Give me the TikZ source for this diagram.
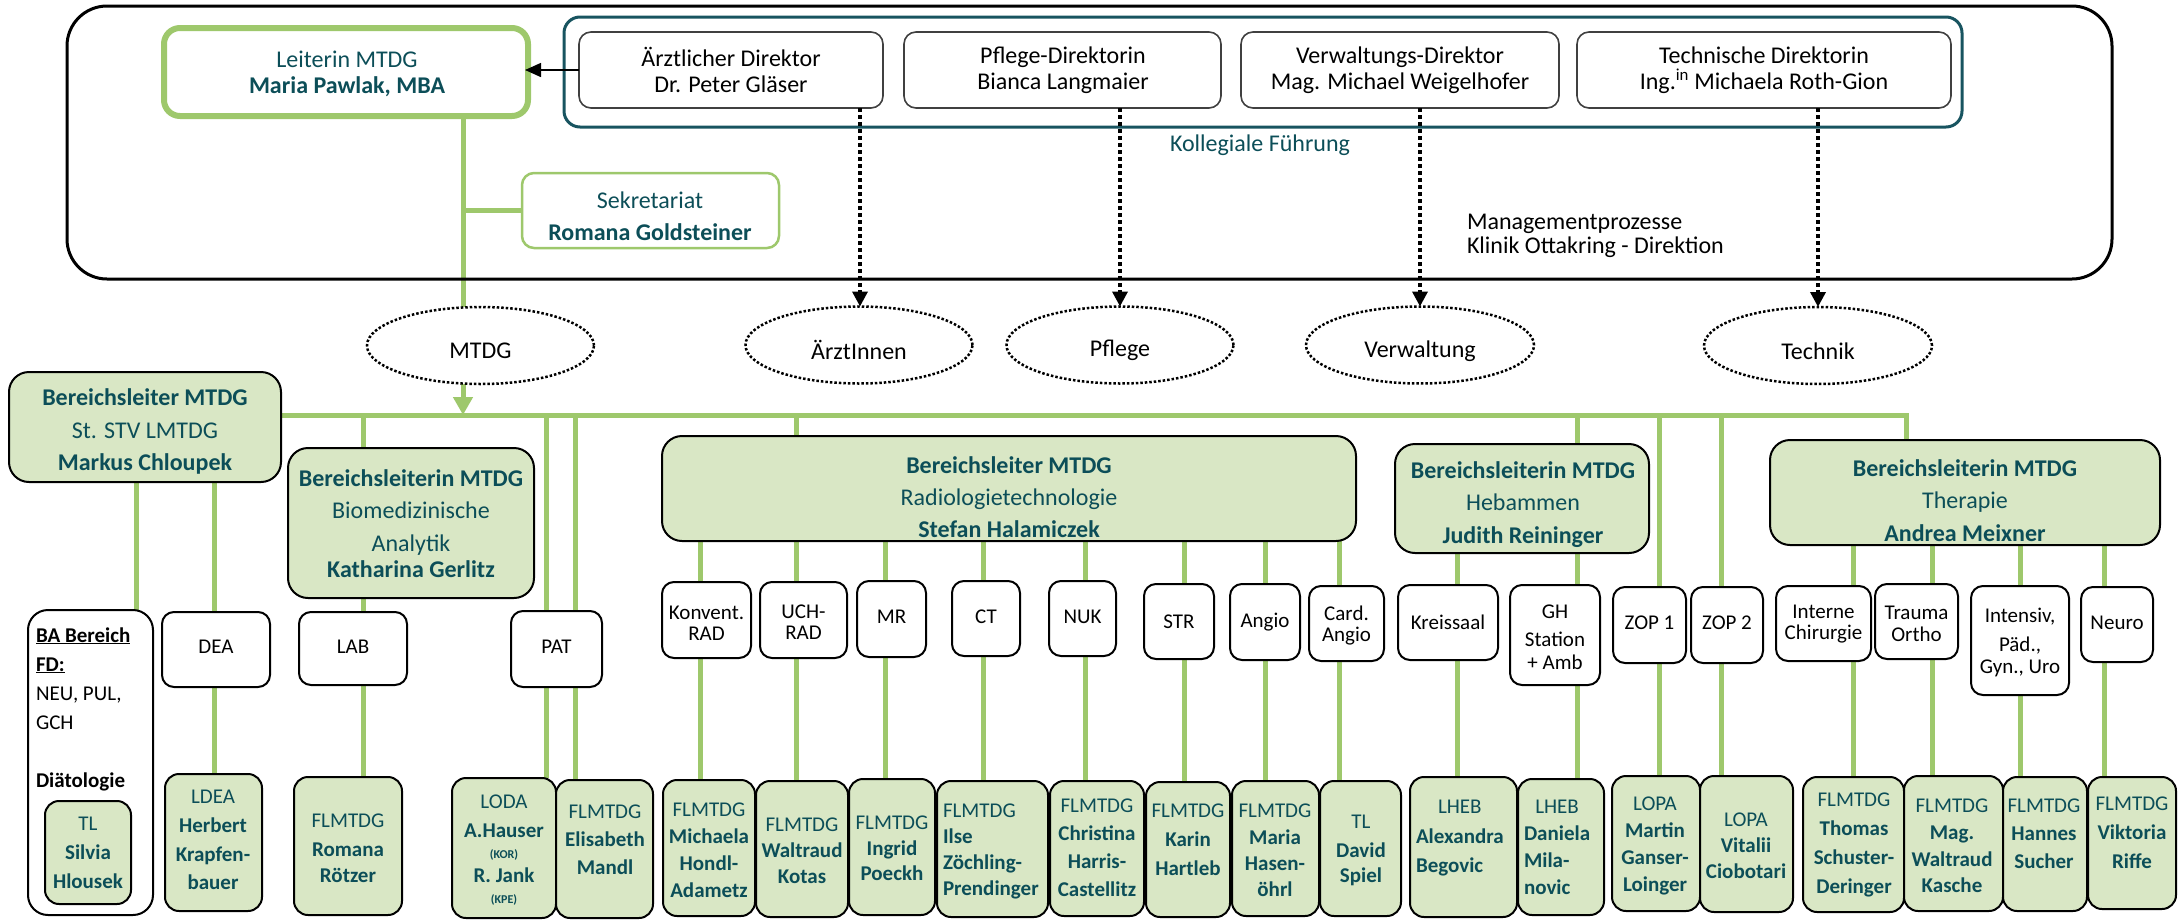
\documentclass[tikz,border=0pt]{standalone}
\usepackage{fontspec}
\setmainfont{Carlito}
\usetikzlibrary{shapes.geometric,arrows.meta,backgrounds}
\definecolor{gline}{RGB}{158,200,108}
\definecolor{gfill}{RGB}{217,231,197}
\definecolor{tealt}{RGB}{12,78,88}
\definecolor{kolc}{RGB}{24,84,96}
\newcommand\fA[1]{\fontsize{24}{#1}\selectfont}
\newcommand\fB[1]{\fontsize{21}{#1}\selectfont}
\newcommand\fC{\fontsize{12}{13}\selectfont}
\newcommand\Bx[6]{\node[#2,minimum width={#5-#3},minimum height={#6-#4}] (#1) at ({(#3+#5)/2},{(#4+#6)/2}) {};}
\begin{document}
\begin{tikzpicture}[x=1pt,y=-1pt,
  every node/.style={inner sep=0pt,outer sep=0pt},
  outerbox/.style={draw=black,line width=3pt,rounded corners=40pt},
  kolbox/.style={draw=kolc,line width=3pt,rounded corners=16pt},
  leitbox/.style={draw=gline,line width=6pt,rounded corners=16pt,fill=white},
  dirbox/.style={draw=black!75,line width=1.6pt,rounded corners=12pt,fill=white},
  sekbox/.style={draw=gline,line width=2.5pt,rounded corners=12pt,fill=white},
  hbox/.style={draw=black,line width=2pt,rounded corners=20pt,fill=gfill},
  wbox/.style={draw=black,line width=2pt,rounded corners=12pt,fill=white},
  babox/.style={draw=black,line width=2pt,rounded corners=20pt,fill=white},
  sbox/.style={draw=black,line width=2pt,rounded corners=14pt,fill=gfill},
  ell/.style={ellipse,draw=black,line width=2.5pt,dash pattern=on 2.5pt off 2pt},
  tt/.style={text=tealt,align=center},
  bt/.style={text=black,align=center},
  conn/.style={draw=gline,line width=5pt},
  dotarr/.style={draw=black,line width=3.5pt,dash pattern=on 3.5pt off 3.5pt,-{Triangle[width=15pt,length=15pt]}}]
\useasboundingbox (0,0) rectangle (2179,919);

% ---------- top frame ----------
\Bx{outer}{outerbox}{67}{6}{2112}{279}
\Bx{kol}{kolbox}{564}{17}{1962}{127}
\node[tt,font=\fA{26}] (kolT) at (1260,145) {Kollegiale Führung};
\node[bt,align=left,anchor=west,font=\fA{24}] (mgmtT) at (1467,236) {Managementprozesse\\Klinik Ottakring - Direktion};

\Bx{leiter}{leitbox}{164}{28}{528}{116}
\node[tt,font=\fA{26}] (leiterT) at (347,74) {Leiterin MTDG\\\textbf{Maria Pawlak, MBA}};

\Bx{aerzt}{dirbox}{579}{32}{883}{108}
\node[bt,font=\fA{26}] (aerztT) at (731,70) {Ärztlicher Direktor\\Dr. Peter Gläser};
\Bx{pflege}{dirbox}{904}{32}{1221}{108}
\node[bt,font=\fA{26}] (pflegeT) at (1063,70) {Pflege-Direktorin\\Bianca Langmaier};
\Bx{verw}{dirbox}{1241}{32}{1559}{108}
\node[bt,font=\fA{26}] (verwT) at (1400,70) {Verwaltungs-Direktor\\Mag. Michael Weigelhofer};
\Bx{tech}{dirbox}{1577}{32}{1951}{108}
\node[bt,font=\fA{26}] (techT) at (1764,70) {Technische Direktorin\\Ing.\textsuperscript{in} Michaela Roth-Gion};

\Bx{sek}{sekbox}{522}{173}{779}{248}
\node[tt,font=\fA{32}] (sekT) at (650,216) {Sekretariat\\\textbf{Romana Goldsteiner}};

% ---------- ellipses ----------
\node[ell,minimum width=227,minimum height=77] (eM) at (480.5,345.5) {};
\node[bt,font=\fA{24}] (eMT) at (480.5,351) {MTDG};
\node[ell,minimum width=227,minimum height=77] (eA) at (859,345) {};
\node[bt,font=\fA{24}] (eAT) at (859,350) {ÄrztInnen};
\node[ell,minimum width=227,minimum height=77] (eP) at (1120,345) {};
\node[bt,font=\fA{24}] (ePT) at (1120,350) {Pflege};
\node[ell,minimum width=228,minimum height=77] (eV) at (1420,345) {};
\node[bt,font=\fA{24}] (eVT) at (1420,351) {Verwaltung};
\node[ell,minimum width=228,minimum height=77] (eT) at (1818,345.5) {};
\node[bt,font=\fA{24}] (eTT) at (1818,351) {Technik};

% ---------- area heads ----------
\Bx{markus}{hbox}{9}{372}{281}{482}
\node[tt,font=\fA{32.5}] (markusT) at (145,431.5) {\textbf{Bereichsleiter MTDG}\\St. STV LMTDG\\\textbf{Markus Chloupek}};
\Bx{kath}{hbox}{288}{448}{534}{598}
\node[tt,font=\fA{32.5}] (kathT) at (411,523.5) {\textbf{Bereichsleiterin MTDG}\\Biomedizinische\\Analytik\\[-6.5pt]\textbf{Katharina Gerlitz}};
\Bx{rad}{hbox}{662}{436}{1356}{541}
\node[tt,font=\fA{32}] (radT) at (1009,497) {\textbf{Bereichsleiter MTDG}\\Radiologietechnologie\\\textbf{Stefan Halamiczek}};
\Bx{heb}{hbox}{1395}{444}{1649}{553}
\node[tt,font=\fA{32.5}] (hebT) at (1523,504.5) {\textbf{Bereichsleiterin MTDG}\\Hebammen\\\textbf{Judith Reininger}};
\Bx{ther}{hbox}{1770}{440}{2160}{545}
\node[tt,font=\fA{32.5}] (therT) at (1965,500.5) {\textbf{Bereichsleiterin MTDG}\\Therapie\\\textbf{Andrea Meixner}};

% ---------- white unit boxes ----------
\Bx{ba}{babox}{28}{610}{153}{915}
\node[bt,align=left,anchor=west,font=\fB{29}] (baT) at (36,709) {\underline{\textbf{BA Bereich}}\\\underline{\textbf{FD:}}\\NEU, PUL,\\GCH\\[29pt]\textbf{Diätologie}};
\Bx{dea}{wbox}{162}{612}{270}{687}
\node[bt,font=\fB{21}] (deaT) at (216,647) {DEA};
\Bx{lab}{wbox}{299}{612}{407}{685}
\node[bt,font=\fB{21}] (labT) at (353,647) {LAB};
\Bx{pat}{wbox}{511}{611}{602}{687}
\node[bt,font=\fB{21}] (patT) at (556.5,647) {PAT};
\Bx{konv}{wbox}{662}{582}{751}{658}
\node[bt,font=\fB{21}] (konvT) at (706.5,623) {Konvent.\\RAD};
\Bx{uch}{wbox}{760}{582}{847}{658}
\node[bt,font=\fB{21}] (uchT) at (803.5,622.5) {UCH-\\RAD};
\Bx{mr}{wbox}{857}{581}{926}{657}
\node[bt,font=\fB{21}] (mrT) at (891.5,617) {MR};
\Bx{ct}{wbox}{952}{581}{1020}{656}
\node[bt,font=\fB{21}] (ctT) at (986,617) {CT};
\Bx{nuk}{wbox}{1049}{581}{1116}{656}
\node[bt,font=\fB{21}] (nukT) at (1082.5,617) {NUK};
\Bx{str}{wbox}{1144}{584}{1214}{659}
\node[bt,font=\fB{21}] (strT) at (1179,622) {STR};
\Bx{ang}{wbox}{1230}{584}{1300}{660}
\node[bt,font=\fB{21}] (angT) at (1265,622) {Angio};
\Bx{cang}{wbox}{1309}{586}{1384}{661}
\node[bt,font=\fB{21}] (cangT) at (1346.5,625.5) {Card.\\Angio};
\Bx{kreis}{wbox}{1398}{585}{1498}{660}
\node[bt,font=\fB{21}] (kreisT) at (1448,622) {Kreissaal};
\Bx{gh}{wbox}{1510}{585}{1600}{685}
\node[bt,font=\fB{23}] (ghT) at (1555,637.5) {GH\\[5pt]Station\\+ Amb};
\Bx{zopa}{wbox}{1613}{587}{1686}{663}
\node[bt,font=\fB{21}] (zopaT) at (1649.5,623) {ZOP 1};
\Bx{zopb}{wbox}{1691}{587}{1763}{663}
\node[bt,font=\fB{21}] (zopbT) at (1727,623) {ZOP 2};
\Bx{intchir}{wbox}{1776}{586}{1871}{661}
\node[bt,font=\fB{21}] (intchirT) at (1823.5,624.5) {Interne\\Chirurgie};
\Bx{trauma}{wbox}{1875}{584}{1958}{659}
\node[bt,font=\fB{22}] (traumaT) at (1916.5,624) {Trauma\\Ortho};
\Bx{intens}{wbox}{1971}{586}{2069}{695}
\node[bt,font=\fB{22}] (intensT) at (2020,642.5) {Intensiv,\\[7pt]Päd.,\\Gyn., Uro};
\Bx{neuro}{wbox}{2081}{587}{2153}{662}
\node[bt,font=\fB{21}] (neuroT) at (2117,623) {Neuro};

% ---------- staff boxes ----------
\Bx{silvia}{sbox}{45}{801}{131}{904}
\node[tt,font=\fB{29}] (silviaT) at (88,853) {TL\\\textbf{Silvia}\\\textbf{Hlousek}};
\Bx{ldea}{sbox}{165}{774}{262}{911}
\node[tt,font=\fB{28.7}] (ldeaT) at (213,840) {LDEA\\\textbf{Herbert}\\\textbf{Krapfen-}\\\textbf{bauer}};
\Bx{roem}{sbox}{294}{777}{402}{915}
\node[tt,font=\fB{26}] (roemT) at (348,848.5) {FLMTDG\\[3pt]\textbf{Romana}\\\textbf{Rötzer}};
\Bx{loda}{sbox}{452}{778}{556}{918}
\node[tt,font=\fB{29}] (lodaT) at (504,850.5) {LODA\\\textbf{A.Hauser}\\[-8pt]{\fC\textbf{(KOR)}}\\[-5pt]\textbf{R. Jank}\\[-8pt]{\fC\textbf{(KPE)}}};
\Bx{elis}{sbox}{556}{780}{653}{918}
\node[tt,font=\fB{28}] (elisT) at (605,840) {FLMTDG\\\textbf{Elisabeth}\\\textbf{Mandl}};
\Bx{mich}{sbox}{663}{780}{755}{916}
\node[tt,font=\fB{27}] (michT) at (709,850) {FLMTDG\\\textbf{Michaela}\\\textbf{Hondl-}\\\textbf{Adametz}};
\Bx{kotas}{sbox}{756}{781}{848}{917}
\node[tt,font=\fB{26}] (kotasT) at (802,851) {FLMTDG\\\textbf{Waltraud}\\\textbf{Kotas}};
\Bx{ingrid}{sbox}{849}{779}{935}{915}
\node[tt,font=\fB{25.5}] (ingridT) at (892,848.5) {FLMTDG\\\textbf{Ingrid}\\\textbf{Poeckh}};
\Bx{ilse}{sbox}{937}{781}{1048}{917}
\node[tt,align=left,anchor=west,font=\fB{26.3}] (ilseT) at (943,851.5) {FLMTDG\\\textbf{Ilse}\\\textbf{Zöchling-}\\\textbf{Prendinger}};
\Bx{chris}{sbox}{1050}{781}{1144}{916}
\node[tt,font=\fB{28}] (chrisT) at (1097,848) {FLMTDG\\\textbf{Christina}\\\textbf{Harris-}\\\textbf{Castellitz}};
\Bx{karin}{sbox}{1146}{782}{1230}{917}
\node[tt,font=\fB{29}] (karinT) at (1188,840) {FLMTDG\\\textbf{Karin}\\\textbf{Hartleb}};
\Bx{maria}{sbox}{1232}{781}{1319}{916}
\node[tt,font=\fB{26.3}] (mariaT) at (1275,850.5) {FLMTDG\\\textbf{Maria}\\\textbf{Hasen-}\\\textbf{öhrl}};
\Bx{david}{sbox}{1320}{781}{1401}{916}
\node[tt,font=\fB{25.5}] (davidT) at (1361,850.5) {TL\\[3pt]\textbf{David}\\\textbf{Spiel}};
\Bx{alex}{sbox}{1410}{777}{1517}{917}
\node[tt,anchor=west,font=\fB{29.5}] (alexT) at (1416,837.5) {\begin{tabular}{@{}l@{}}\multicolumn{1}{@{}c@{}}{LHEB}\\\textbf{Alexandra}\\\textbf{Begovic}\end{tabular}};
\Bx{dani}{sbox}{1518}{779}{1604}{915}
\node[tt,anchor=west,font=\fB{27}] (daniT) at (1524,848.5) {\begin{tabular}{@{}l@{}}\multicolumn{1}{@{}c@{}}{LHEB}\\\textbf{Daniela}\\\textbf{Mila-}\\\textbf{novic}\end{tabular}};
\Bx{martin}{sbox}{1612}{776}{1700}{911}
\node[tt,font=\fB{26.7}] (martinT) at (1655,846) {LOPA\\\textbf{Martin}\\\textbf{Ganser-}\\\textbf{Loinger}};
\Bx{vitalii}{sbox}{1700}{776}{1793}{912}
\node[tt,font=\fB{26}] (vitaliiT) at (1746,846) {LOPA\\\textbf{Vitalii}\\\textbf{Ciobotari}};
\Bx{thomas}{sbox}{1803}{777}{1904}{912}
\node[tt,font=\fB{28.7}] (thomasT) at (1854,845) {FLMTDG\\\textbf{Thomas}\\\textbf{Schuster-}\\\textbf{Deringer}};
\Bx{kasche}{sbox}{1904}{776}{2003}{911}
\node[tt,font=\fB{26.7}] (kascheT) at (1952,846) {FLMTDG\\\textbf{Mag.}\\\textbf{Waltraud}\\\textbf{Kasche}};
\Bx{hannes}{sbox}{2003}{777}{2087}{911}
\node[tt,font=\fB{28}] (hannesT) at (2044,834) {FLMTDG\\\textbf{Hannes}\\\textbf{Sucher}};
\Bx{vikt}{sbox}{2088}{777}{2176}{909}
\node[tt,font=\fB{29}] (viktT) at (2132,833) {FLMTDG\\\textbf{Viktoria}\\\textbf{Riffe}};

% ---------- connectors ----------
\coordinate (busL) at (markus.east |- 0,415);
\coordinate (busR) at (1908.5,415);
\begin{scope}[on background layer]
  \draw[conn] (463,0 |- leiter.south) -- (463,0 |- eM.north);
  \draw[conn] (463,0 |- sek.west) -- (sek.west);
  \draw[conn,-{Triangle[width=19pt,length=18pt]}] (463,0 |- eM.south) -- (463,0 |- busL);
  \draw[conn] (busL) -- (busR);
  \foreach \xx/\tg in {363/kath,546/loda,575/elis,796/rad,1577/heb,1659/martin,1721/vitalii,1906/ther}
    \draw[conn] (\xx,0 |- busL) -- (\xx,0 |- \tg.north);
  \draw[conn] (136,0 |- markus.south) -- (136,0 |- ba.north);
  \draw[conn] (214,0 |- markus.south) -- (214,0 |- ldea.north);
  \draw[conn] (363,0 |- kath.south) -- (363,0 |- roem.north);
  \foreach \xx/\tg in {700/mich,796/kotas,885/ingrid,983/ilse,1085/chris,1184/karin,1265/maria,1339/david}
    \draw[conn] (\xx,0 |- rad.south) -- (\xx,0 |- \tg.north);
  \draw[conn] (1457,0 |- heb.south) -- (1457,0 |- alex.north);
  \draw[conn] (1577,0 |- heb.south) -- (1577,0 |- dani.north);
  \foreach \xx/\tg in {1853/thomas,1932/kasche,2020/hannes,2104/vikt}
    \draw[conn] (\xx,0 |- ther.south) -- (\xx,0 |- \tg.north);
\end{scope}

\draw[line width=1.5pt,-{Triangle[width=14pt,length=16pt]},shorten >=-3pt] (aerzt.west) -- (aerzt.west -| leiter.east);
\draw[dotarr] (860,0 |- aerzt.south) -- (860,0 |- eA.north);
\draw[dotarr] (eP.north |- pflege.south) -- (eP.north);
\draw[dotarr] (eV.north |- verw.south) -- (eV.north);
\draw[dotarr] (eT.north |- tech.south) -- (eT.north);
\end{tikzpicture}
\end{document}
